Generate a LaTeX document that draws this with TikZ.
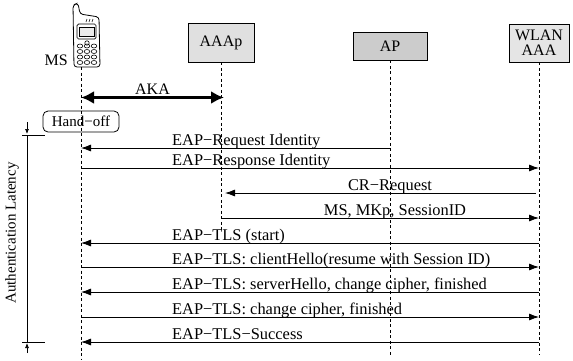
\documentclass[tikz,border=0pt]{standalone}
\usepackage{fontspec}
\setmainfont{Liberation Serif}
\usetikzlibrary{arrows.meta,positioning}
\tikzset{
  entity/.style={draw, line width=0.8pt, inner sep=0pt, align=center,
    font=\fontsize{16}{15}\selectfont},
  lifeline/.style={line width=0.7pt, dash pattern=on 3pt off 2.5pt},
  msg/.style={line width=0.8pt, -{Latex[length=10pt,width=7pt]}},
  aka/.style={line width=2.6pt, {Latex[length=13pt,width=13pt]}-{Latex[length=13pt,width=13pt]}},
  lbl/.style={inner sep=0pt, anchor=base west, font=\fontsize{16.4}{18}\selectfont},
  clbl/.style={lbl, anchor=base},
  handoff/.style={draw, line width=0.8pt, rounded corners=5pt, minimum width=76pt,
    minimum height=21pt, inner sep=0pt, font=\fontsize{15}{17}\selectfont},
}
\begin{document}
\begin{tikzpicture}[x=1pt,y=-1pt]
		\useasboundingbox (0,0) rectangle (573,360);
		%%%%% ENTITIES %%%%%
		\node[entity, fill=black!12, minimum width=66pt, minimum height=39pt] (aaap) at (221,42.5) {AAAp};
		\node[entity, fill=black!20, minimum width=74pt, minimum height=28pt] (ap) at (390,46) {AP};
		\node[entity, fill=black!10, minimum width=60pt, minimum height=38pt] (wlan) at (539,43) {WLAN\\AAA};
		
		%%%%% PHONE %%%%%
		\coordinate (ms) at (81,67);
		\draw[line width=0.8pt, rounded corners=3pt, fill=white] (74,67) -- (73,5) -- (78,3) -- (80,14) -- (99,17) -- (100,67) -- cycle;
		\draw[line width=0.7pt, rounded corners=1.5pt] (77,24) rectangle (96,39);
		\draw[line width=0.6pt, fill=black!8] (79,27) rectangle (94,36);
		\draw[line width=0.6pt] (86,22) -- (87,19) (89,22) -- (90,19) (92,22) -- (93,19);
		\draw[line width=0.6pt] (87,43) circle (2.2);
		\foreach \kx in {80,87,94}
			\foreach \ky in {46,51.5,57,62.5}
				\draw[line width=0.6pt] (\kx,\ky) ellipse (2.8 and 2);
		\node[inner sep=0pt, anchor=base east, font=\fontsize{16}{18}\selectfont] (mslbl) at (68,65) {MS};
		
		%%%%% LIFELINES %%%%%
		\coordinate (msend) at (81,360);
		\coordinate (aaapend) at (221,230);
		\coordinate (apend) at (390,355);
		\coordinate (wlanend) at (539,355);
		\draw[lifeline] (ms) -- (msend);
		\draw[lifeline] (aaap.south) -- (aaapend);
		\draw[lifeline] (ap.south) -- (apend);
		\draw[lifeline] (wlan.south) -- (wlanend);
		
		%%%%% AKA AND HAND-OFF %%%%%
		\coordinate (rk) at (0,97.5);
		\draw[aka] (ms |- rk) -- node[above=1.5pt, inner sep=0pt, font=\fontsize{16}{18}\selectfont] (akalbl) {AKA} ([xshift=3pt]aaap |- rk);
		\node[handoff] (hand) at (81,121.5) {Hand−off};
		
		%%%%% MESSAGES %%%%%
		\foreach \n/\y in {1/148,2/168,3/193,4/218,5/243,6/267,7/292,8/317,9/342}
			\coordinate (r\n) at (0,\y);
		\draw[msg] (ap |- r1) -- (ms |- r1);
		\draw[msg] (ms |- r2) -- (wlan |- r2);
		\draw[msg] ([xshift=-3pt]wlan |- r3) -- ([xshift=4pt]aaap |- r3);
		\draw[msg] (aaap |- r4) -- (wlan |- r4);
		\draw[msg] (wlan |- r5) -- (ms |- r5);
		\draw[msg] (ms |- r6) -- (wlan |- r6);
		\draw[msg] (wlan |- r7) -- (ms |- r7);
		\draw[msg] (ms |- r8) -- (wlan |- r8);
		\draw[msg] (wlan |- r9) -- (ms |- r9);
		
		\node[lbl] (l1) at (172,145) {EAP−Request Identity};
		\node[lbl] (l2) at (172,165) {EAP−Response Identity};
		\node[clbl] (l3) at (390,190) {CR−Request};
		\node[clbl] (l4) at (395,215) {MS, MKp, SessionID};
		\node[lbl] (l5) at (172,240) {EAP−TLS (start)};
		\node[lbl] (l6) at (172,264) {EAP−TLS: clientHello(resume with Session ID)};
		\node[lbl] (l7) at (172,289) {EAP−TLS: serverHello, change cipher, finished};
		\node[lbl] (l8) at (172,314) {EAP−TLS: change cipher, finished};
		\node[lbl] (l9) at (172,339) {EAP−TLS−Success};
		
		%%%%% LATENCY %%%%%
		\coordinate (lattop) at (27,135);
		\coordinate (latbot) at (27,342);
		\draw[line width=0.8pt] (lattop) -- (latbot);
		\draw[line width=0.8pt] ([xshift=-5pt]lattop) -- ([xshift=18pt]lattop);
		\draw[line width=0.8pt] ([xshift=-5pt]latbot) -- ([xshift=18pt]latbot);
		\draw[line width=0.7pt, -{Latex[length=5pt,width=4pt]}] ([yshift=13pt]lattop) -- ([yshift=1pt]lattop);
		\draw[line width=0.7pt, -{Latex[length=5pt,width=4pt]}] ([yshift=-11pt]latbot) -- ([yshift=-1pt]latbot);
		\node[rotate=90, inner sep=0pt, font=\fontsize{15}{17}\selectfont] (latlbl) at (12,233) {Authentication Latency};
	\end{tikzpicture}
\end{document}
